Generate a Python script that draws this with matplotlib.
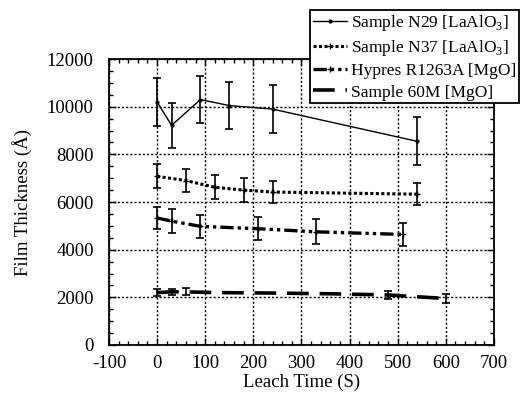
import numpy as np
import matplotlib
matplotlib.use("Agg")
import matplotlib.pyplot as plt
from matplotlib.ticker import MultipleLocator
from matplotlib.lines import Line2D

plt.rcParams['font.family'] = ['Liberation Serif', 'DejaVu Serif']
plt.rcParams['mathtext.fontset'] = 'custom'
plt.rcParams['mathtext.rm'] = 'Liberation Serif'
plt.rcParams['axes.unicode_minus'] = False

# data
n29_t = [0, 30, 90, 150, 240, 540]
n29_y = [10200, 9220, 10300, 10050, 9900, 8550]
n29_e = [1000, 950, 1000, 1000, 1000, 1000]

n37_t = [0, 60, 120, 180, 240, 540]
n37_y = [7080, 6900, 6620, 6500, 6420, 6330]
n37_e = [500, 480, 500, 500, 480, 470]

hyp_t = [0, 30, 90, 210, 330, 510]
hyp_y = [5330, 5200, 4980, 4880, 4750, 4640]
hyp_e = [470, 500, 480, 480, 520, 500]

m60_t = [0, 30, 60, 120, 240, 360, 480, 600]
m60_y = [2200, 2230, 2230, 2200, 2180, 2150, 2100, 1950]
m60_e = [150, 130, 150, 0, 0, 0, 150, 200]

labels = ['Sample N29 [LaAlO$_3$]', 'Sample N37 [LaAlO$_3$]',
          'Hypres R1263A [MgO]', 'Sample 60M [MgO]']

styles = [dict(lw=1.0, ls='-', marker='.', ms=4),
          dict(lw=2.2, ls=(0, (1, 0.8)), marker='+', ms=4),
          dict(lw=2.4, ls=(0, (4, 1.2, 1, 1.2, 1, 1.2)), marker='+', ms=4),
          dict(lw=2.6, ls=(0, (6, 3)), marker=None, ms=0)]

fig = plt.figure(figsize=(5.22, 3.96), dpi=100)
ax = fig.add_axes([0.2088, 0.1288, 0.7375, 0.722])

eb = dict(ecolor='black', elinewidth=1.2, capsize=3, capthick=1.2, color='black')
series = [(n29_t, n29_y, n29_e), (n37_t, n37_y, n37_e),
          (hyp_t, hyp_y, hyp_e), (m60_t, m60_y, m60_e)]
for (t, y, e), st in zip(series, styles):
    err = [v if v > 0 else np.nan for v in e]
    ax.errorbar(t, y, yerr=err, **st, **eb)

ax.set_xlim(-100, 700)
ax.set_ylim(0, 12000)
ax.xaxis.set_major_locator(MultipleLocator(100))
ax.xaxis.set_minor_locator(MultipleLocator(20))
ax.yaxis.set_major_locator(MultipleLocator(2000))
ax.yaxis.set_minor_locator(MultipleLocator(500))
ax.tick_params(which='both', direction='in', top=True, right=True, labelsize=13.5)
ax.tick_params(which='major', length=5, width=1)
ax.tick_params(which='minor', length=3, width=1)
ax.tick_params(axis='y', pad=11)
ax.tick_params(axis='x', pad=7)
for s in ax.spines.values():
    s.set_linewidth(1.3)
ax.grid(True, which='major', color='black', ls=(0, (1.5, 1.5)), lw=1.0)

ax.set_xlabel('Leach Time (S)', fontsize=13.5)
ax.set_ylabel('Film Thickness (Å)', fontsize=13.5)
ax.xaxis.set_label_coords(0.5, -0.1)
ax.yaxis.set_label_coords(-0.2, 0.5)

handles = [Line2D([], [], color='black', **st) for st in styles]
leg = fig.legend(handles, labels, loc='upper left', bbox_to_anchor=(310 / 522, 1 - 10 / 396),
                 fontsize=12.5, frameon=True, fancybox=False, edgecolor='black',
                 handlelength=2.0, handletextpad=0.2, borderpad=0.15, labelspacing=0.3,
                 borderaxespad=0)
leg.get_frame().set_linewidth(1.3)
leg.get_frame().set_alpha(1)

fig.savefig('out.png', dpi=100)
